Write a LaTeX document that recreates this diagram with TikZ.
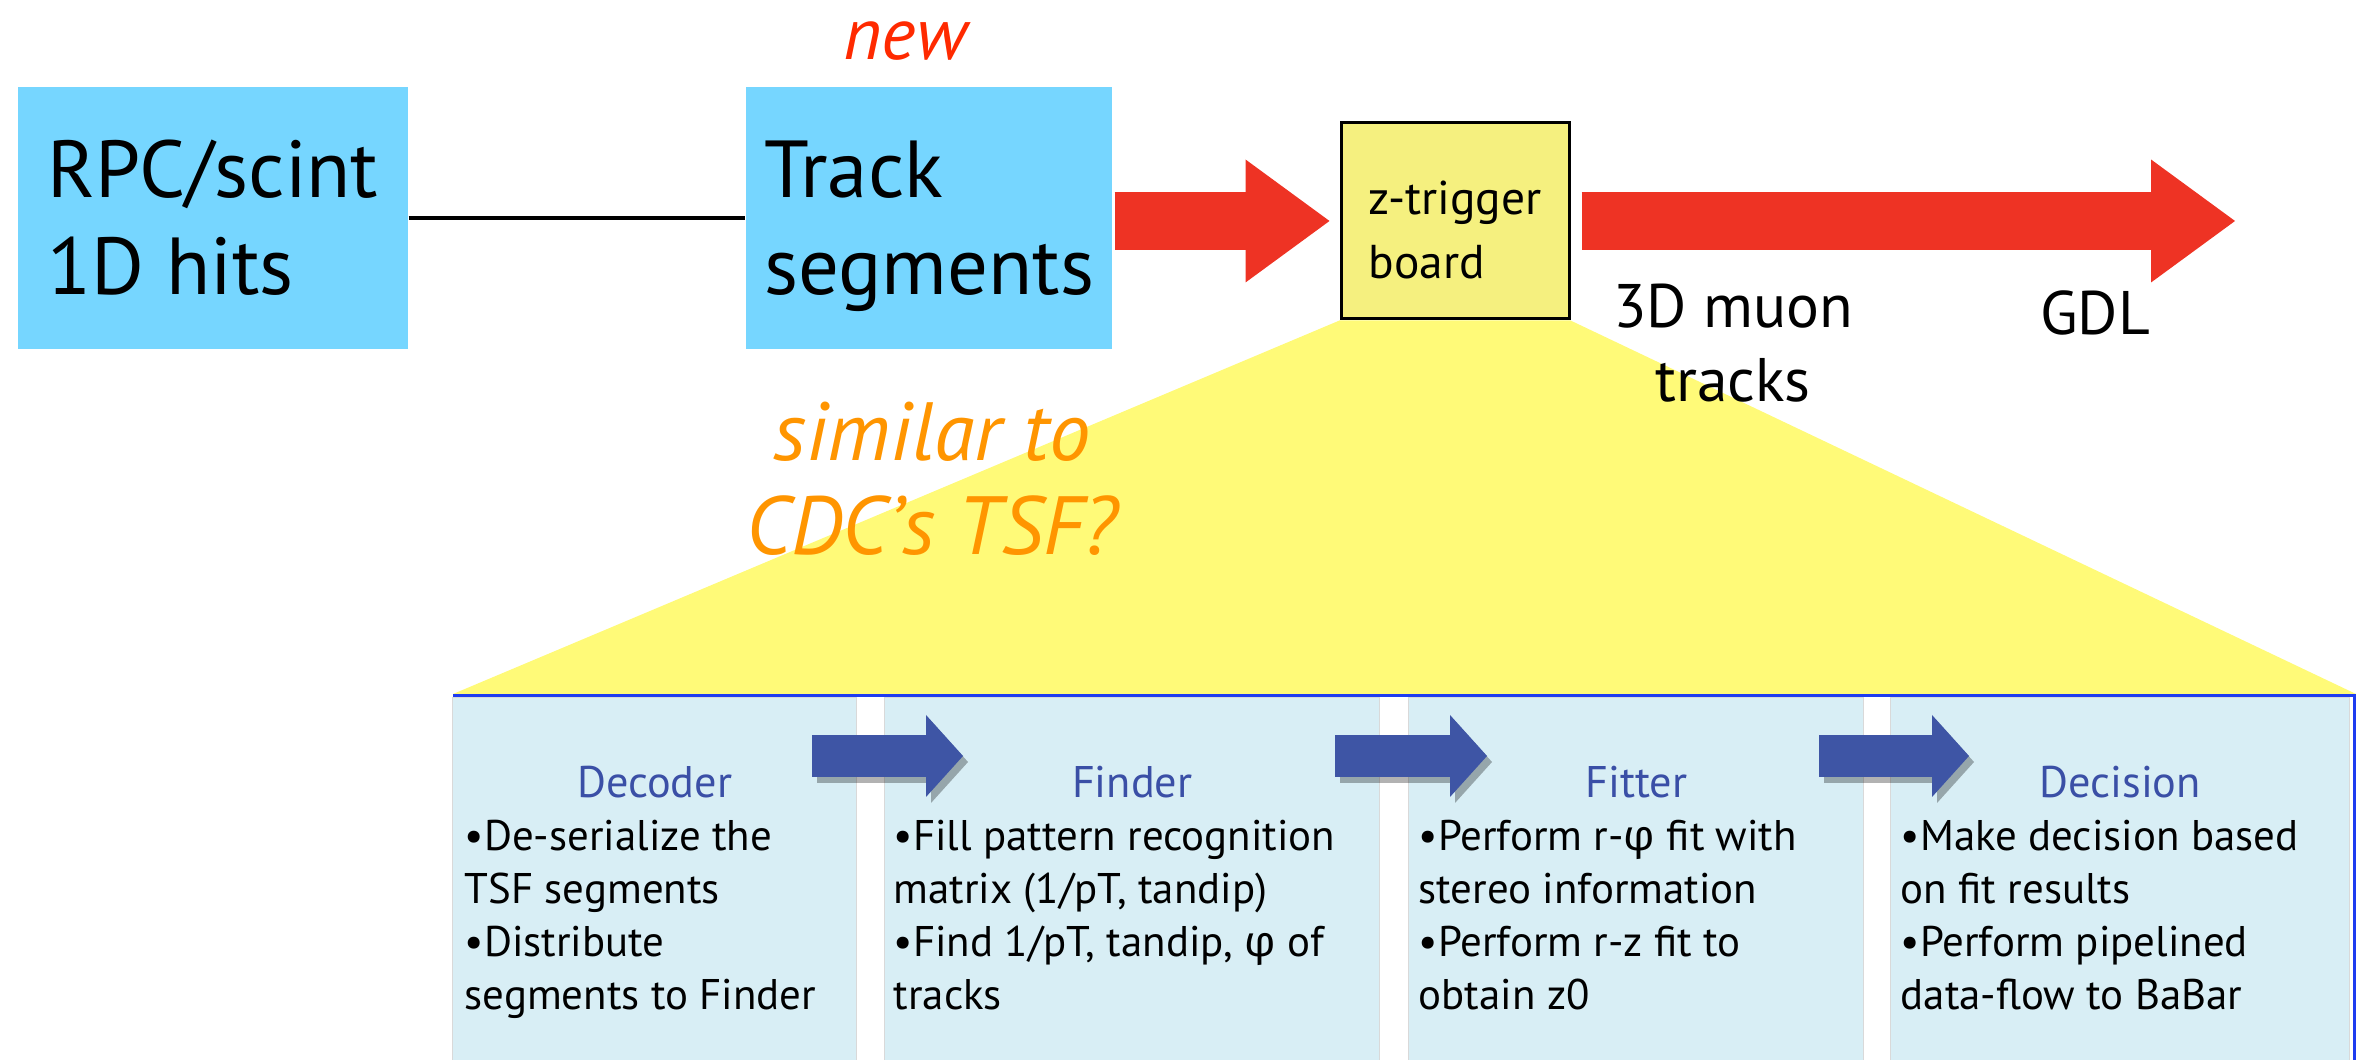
\documentclass[tikz,border=0pt]{standalone}
\usepackage{fontspec}
\setmainfont{PT Sans}
\newfontfamily\greekfont{Fira Sans}
\usetikzlibrary{arrows.meta, positioning, calc, backgrounds}
\definecolor{boxblue}{HTML}{76D6FF}
\definecolor{flowred}{HTML}{EE3324}
\definecolor{boardyellow}{HTML}{F5F07F}
\definecolor{fanyellow}{HTML}{FFFA78}
\definecolor{newred}{HTML}{FF2A00}
\definecolor{askorange}{HTML}{FF9500}
\definecolor{panelcyan}{HTML}{D8EEF5}
\definecolor{frameblue}{HTML}{1E3CF0}
\definecolor{titleblue}{HTML}{3A4FA6}
\definecolor{stepblue}{HTML}{3E55A5}
\newcommand{\phisym}{{\greekfont φ}}

\begin{document}
\begin{tikzpicture}[
    inbox/.style={fill=boxblue, minimum height=2.62cm, inner sep=0pt, align=left,
      font=\fontsize{23}{27.6}\selectfont},
    fatarrow/.style={flowred, line width=0.58cm,
      -{Triangle[length=0.84cm, width=1.23cm, line width=0pt]}},
    panel/.style={fill=panelcyan, draw=black!15, line width=0.4pt, anchor=north west,
      minimum height=3.9cm, inner sep=0pt},
    steptitle/.style={titleblue, anchor=base, font=\fontsize{12.6}{15}\selectfont},
    bullets/.style={anchor=base west, align=left, inner sep=0pt,
      font=\fontsize{12.2}{15.1}\selectfont},
    steparrow/.style={line width=0.42cm,
      -{Triangle[length=0.37cm, width=0.82cm, line width=0pt]}}
  ]
  \useasboundingbox (0,0) rectangle (23.62,10.60);

  % top row
  \node[inbox, minimum width=3.90cm] (rpc) at (2.13,8.42) {RPC/scint\\1D hits};
  \node[inbox, minimum width=3.66cm] (track) at (9.29,8.42) {Track\\\smash{segments}};
  \node[fill=boardyellow, draw=black, line width=0.03cm, minimum width=2.28cm,
        minimum height=1.96cm, inner sep=0pt, align=left,
        font=\fontsize{13.5}{18.3}\selectfont] (board) at (14.55,8.39)
    {\rule{0pt}{0.52cm}z-trigger\\board};
  \coordinate (gdlend) at (22.35,8.39);

  \node[newred, anchor=base, font=\fontsize{21}{25}\selectfont\itshape] (newtag)
    at (9.05,10.0) {new};
  % multi-line nodes: base is the last line
  \node[anchor=base, align=center, font=\fontsize{17.5}{21.2}\selectfont] (muon)
    at (17.33,6.58) {3D muon\\tracks};
  \node[anchor=base, font=\fontsize{17.5}{21}\selectfont] (gdl) at (20.95,7.25) {GDL};
  \node[askorange, anchor=base, align=center,
        font=\fontsize{23.5}{27}\selectfont\itshape] (similar)
    at (9.32,5.05) {similar to\\CDC’s TSF?};

  \draw[line width=0.04cm] (rpc.east) -- (track.west);
  \draw[fatarrow, shorten <=0.02cm, shorten >=0.10cm] (track.east |- board.west) -- (board.west);
  \draw[fatarrow, shorten <=0.11cm] (board.east) -- (gdlend);

  % board internals
  \node[draw=frameblue, line width=0.03cm, fill=white, anchor=north west,
        minimum width=19.0cm, minimum height=4.0cm, inner sep=0pt] (frame) at (4.53,3.66) {};
  \node[panel, minimum width=4.04cm] (dec) at (4.52,3.63) {};
  \node[panel, minimum width=4.95cm] (fnd) at (8.84,3.63) {};
  \node[panel, minimum width=4.55cm] (fit) at (14.08,3.63) {};
  \node[panel, minimum width=4.59cm] (dcs) at (18.90,3.63) {};

  \node[steptitle] (dectitle) at (dec.center |- 0,2.62) {Decoder};
  \node[steptitle] (fndtitle) at (fnd.center |- 0,2.62) {Finder};
  \node[steptitle] (fittitle) at (fit.center |- 0,2.62) {Fitter};
  \node[steptitle] (dcstitle) at (dcs.center |- 0,2.62) {Decision};

  \node[bullets] (dectext) at ([xshift=0.12cm]dec.west |- 0,0.50)
    {•De-serialize the\\TSF segments\\•Distribute\\segments to Finder};
  \node[bullets] (fndtext) at ([xshift=0.09cm]fnd.west |- 0,0.50)
    {•Fill pattern recognition\\matrix (1/pT, tandip)\\•Find 1/pT, tandip, \phisym{} of\\tracks};
  \node[bullets] (fittext) at ([xshift=0.10cm]fit.west |- 0,0.50)
    {•Perform r-\phisym{} fit with\\stereo information\\•Perform r-z fit to\\obtain z0};
  \node[bullets] (dcstext) at ([xshift=0.10cm]dcs.west |- 0,0.50)
    {•Make decision based\\on fit results\\•Perform pipelined\\data-flow to BaBar};

  \foreach \a/\b in {dec/fnd, fnd/fit, fit/dcs} {
    \draw[steparrow, black, opacity=0.3, transform canvas={shift={(0.05,-0.06)}}]
      ([shift={(-0.45,-0.59)}]\a.north east) -- ([shift={(0.79,-0.59)}]\b.north west);
    \draw[steparrow, stepblue]
      ([shift={(-0.45,-0.59)}]\a.north east) -- ([shift={(0.79,-0.59)}]\b.north west);
  }

  \begin{scope}[on background layer]
    \fill[fanyellow] (board.south west) -- (board.south east)
      -- (frame.north east) -- (frame.north west) -- cycle;
  \end{scope}
\end{tikzpicture}
\end{document}
